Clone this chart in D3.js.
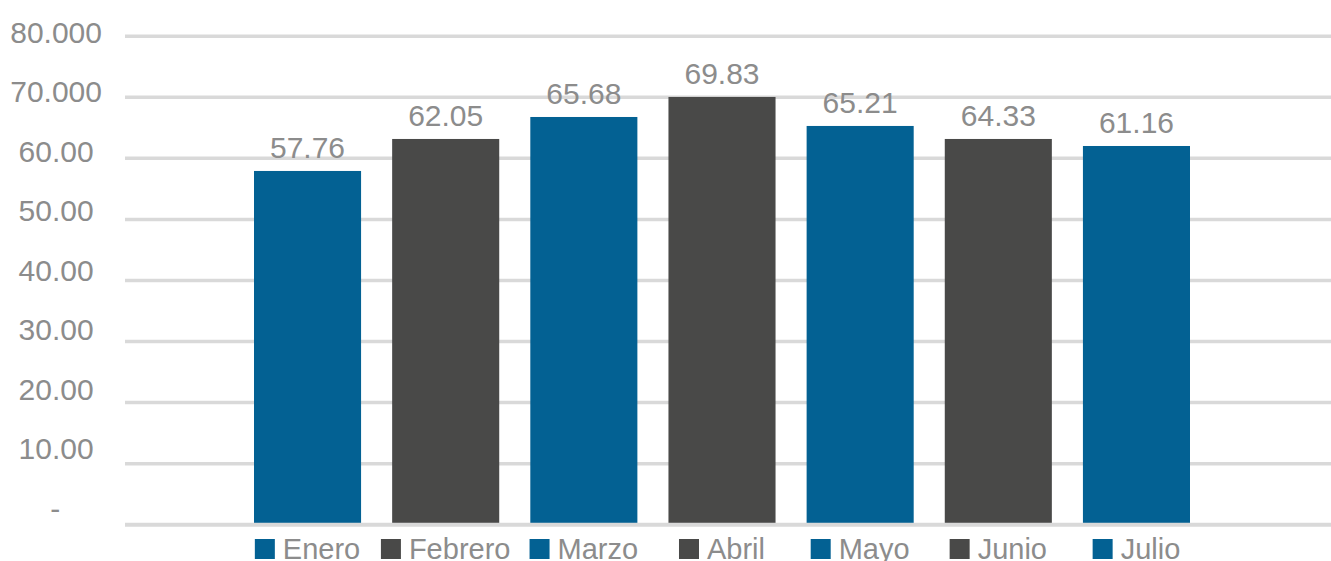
<!DOCTYPE html>
<html>
<head>
<meta charset="utf-8">
<script src="https://cdn.jsdelivr.net/npm/d3@7"></script>
<style>
  html, body { margin: 0; padding: 0; background: #fff; }
  svg { display: block; }
  text { font-family: "Liberation Sans", Arial, Helvetica, sans-serif; fill: #8c8c8c; }
</style>
</head>
<body>
<svg id="chart" width="1331" height="561"></svg>
<script>
// ---- data ----
const categories = ["Enero", "Febrero", "Marzo", "Abril", "Mayo", "Junio", "Julio"];
const values = [57.93, 63.17, 66.77, 70.05, 65.30, 63.17, 62.02];
const valueLabels = ["57.76", "62.05", "65.68", "69.83", "65.21", "64.33", "61.16"];
const colorKeys = ["blue", "gray", "blue", "gray", "blue", "gray", "blue"];
const tickValues = [0, 10, 20, 30, 40, 50, 60, 70, 80];
const tickLabels = ["-", "10.00", "20.00", "30.00", "40.00", "50.00", "60.00", "70.000", "80.000"];

// ---- styles ----
const palette = { blue: "#036193", gray: "#494948" };
const gridColor = "#d9d9d9";
const NB = "\u00a0";

const svg = d3.select("#chart");

const y = d3.scaleLinear().domain([0, 80]).range([524.7, 36.2]);
const yLabel = d3.scaleLinear().domain([0, 80]).range([508, 31.7]);
const x = d3.scaleBand().domain(categories).range([254, 1190]).paddingInner(0.225).paddingOuter(0);

// gridlines
svg.append("g").selectAll("line").data(tickValues.filter(v => v > 0)).join("line")
  .attr("x1", 125).attr("x2", 1331)
  .attr("y1", d => y(d)).attr("y2", d => y(d))
  .attr("stroke", gridColor).attr("stroke-width", 3.5);

// y tick labels
const pad = ["", NB.repeat(5), NB, NB, NB, NB, NB, NB, "", ""];
svg.append("g").selectAll("text").data(tickValues).join("text")
  .attr("x", 102)
  .attr("y", d => yLabel(d))
  .attr("dy", "0.36em")
  .attr("text-anchor", "end")
  .attr("font-size", 30)
  .text((d, i) => tickLabels[i] + (tickLabels[i] === "-" ? NB.repeat(5) : (tickLabels[i].length === 5 ? NB : "")));

// bars
svg.append("g").selectAll("rect").data(categories).join("rect")
  .attr("x", d => x(d))
  .attr("width", x.bandwidth())
  .attr("y", (d, i) => y(values[i]))
  .attr("height", (d, i) => y(0) - y(values[i]))
  .attr("fill", (d, i) => palette[colorKeys[i]]);

// baseline
svg.append("line")
  .attr("x1", 125).attr("x2", 1331)
  .attr("y1", y(0)).attr("y2", y(0))
  .attr("stroke", gridColor).attr("stroke-width", 4);

// value labels
svg.append("g").selectAll("text").data(categories).join("text")
  .attr("x", d => x(d) + x.bandwidth() / 2)
  .attr("y", (d, i) => y(values[i]) - 13)
  .attr("text-anchor", "middle")
  .attr("font-size", 30)
  .text((d, i) => valueLabels[i]);

// legend: each item centered under its bar
const legend = svg.append("g");
categories.forEach((c, i) => {
  const g = legend.append("g");
  const sq = g.append("rect").attr("width", 20).attr("height", 20)
    .attr("y", 539).attr("fill", palette[colorKeys[i]]);
  const t = g.append("text").attr("font-size", 29).attr("y", 559).text(c);
  const tw = t.node().getComputedTextLength();
  const total = 20 + 8 + tw;
  const cx = x(c) + x.bandwidth() / 2;
  const left = cx - total / 2;
  sq.attr("x", left);
  t.attr("x", left + 28);
});
</script>
</body>
</html>
